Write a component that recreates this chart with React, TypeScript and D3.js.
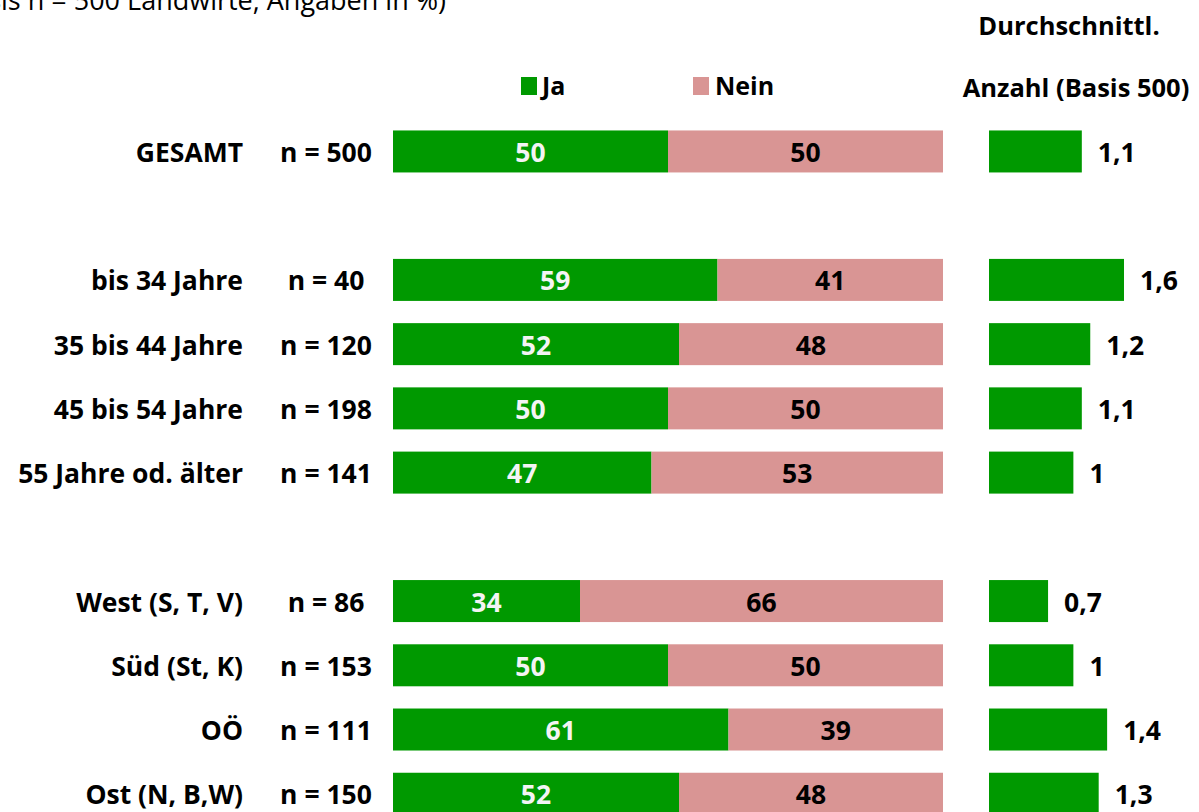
import React from "react";
import * as d3 from "d3";

const categories = ["GESAMT", "", "bis 34 Jahre", "35 bis 44 Jahre", "45 bis 54 Jahre", "55 Jahre od. älter", " ", "West (S, T, V)", "Süd (St, K)", "OÖ", "Ost (N, B,W)"];
const sampleSizes = ["n = 500", "", "n = 40", "n = 120", "n = 198", "n = 141", "", "n = 86", "n = 153", "n = 111", "n = 150"];
const jaValues = [50, null, 59, 52, 50, 47, null, 34, 50, 61, 52];
const neinValues = [50, null, 41, 48, 50, 53, null, 66, 50, 39, 48];
const avgValues = [1.1, null, 1.6, 1.2, 1.1, 1.0, null, 0.7, 1.0, 1.4, 1.3];
const avgLabels = ["1,1", "", "1,6", "1,2", "1,1", "1", "", "0,7", "1", "1,4", "1,3"];

const GREEN = "#009900";
const PINK = "#D99594";
const FONT = "'Open Sans', sans-serif";

export default function App() {
  const W = 1199, H = 812;
  const y = d3.scaleBand<number>().domain(d3.range(categories.length)).range([119.5, 119.5 + 64.2 * 11]).paddingInner(0.345).paddingOuter(0.17);
  const x = d3.scaleLinear().domain([0, 100]).range([393, 943]);
  const xa = d3.scaleLinear().domain([0, 1.6]).range([989, 1124]);
  const bh = 42;
  const dy = 10.5;
  const fs = 26.5;

  return (
    <svg width={W} height={H} style={{ position: "absolute", left: 0, top: 0, background: "#fff" }} fontFamily={FONT}>
      <text x={446} y={10} textAnchor="end" fontSize={27} fill="#000">(Basis n = 500 Landwirte, Angaben in %)</text>
      <text x={1069} y={35} textAnchor="middle" fontSize={25.5} fontWeight="bold">Durchschnittl.</text>
      <text x={1076} y={97} textAnchor="middle" fontSize={25.5} fontWeight="bold">Anzahl (Basis 500)</text>
      <rect x={521} y={77} width={16} height={18} fill={GREEN} />
      <text x={542} y={95} fontSize={25} fontWeight="bold">Ja</text>
      <rect x={693} y={77} width={16} height={18} fill={PINK} />
      <text x={715} y={95} fontSize={25} fontWeight="bold">Nein</text>
      {categories.map((c, i) => {
        const ja = jaValues[i];
        const nein = neinValues[i];
        const avg = avgValues[i];
        if (ja == null || nein == null || avg == null) return null;
        const cy = (y(i) as number) + y.bandwidth() / 2;
        const top = cy - bh / 2;
        return (
          <g key={i}>
            <text x={243} y={cy + dy} textAnchor="end" fontSize={fs} fontWeight="bold">{c}</text>
            <text x={326} y={cy + dy} textAnchor="middle" fontSize={fs} fontWeight="bold">{sampleSizes[i]}</text>
            <rect x={x(0)} y={top} width={x(ja) - x(0)} height={bh} fill={GREEN} />
            <rect x={x(ja)} y={top} width={x(ja + nein) - x(ja)} height={bh} fill={PINK} />
            <text x={(x(0) + x(ja)) / 2} y={cy + dy} textAnchor="middle" fontSize={fs} fontWeight="bold" fill="#f4f4f4">{ja}</text>
            <text x={(x(ja) + x(ja + nein)) / 2} y={cy + dy} textAnchor="middle" fontSize={fs} fontWeight="bold" fill="#000">{nein}</text>
            <rect x={xa(0)} y={top} width={xa(avg) - xa(0)} height={bh} fill={GREEN} />
            <text x={xa(avg) + 16} y={cy + dy} fontSize={fs} fontWeight="bold">{avgLabels[i]}</text>
          </g>
        );
      })}
    </svg>
  );
}
